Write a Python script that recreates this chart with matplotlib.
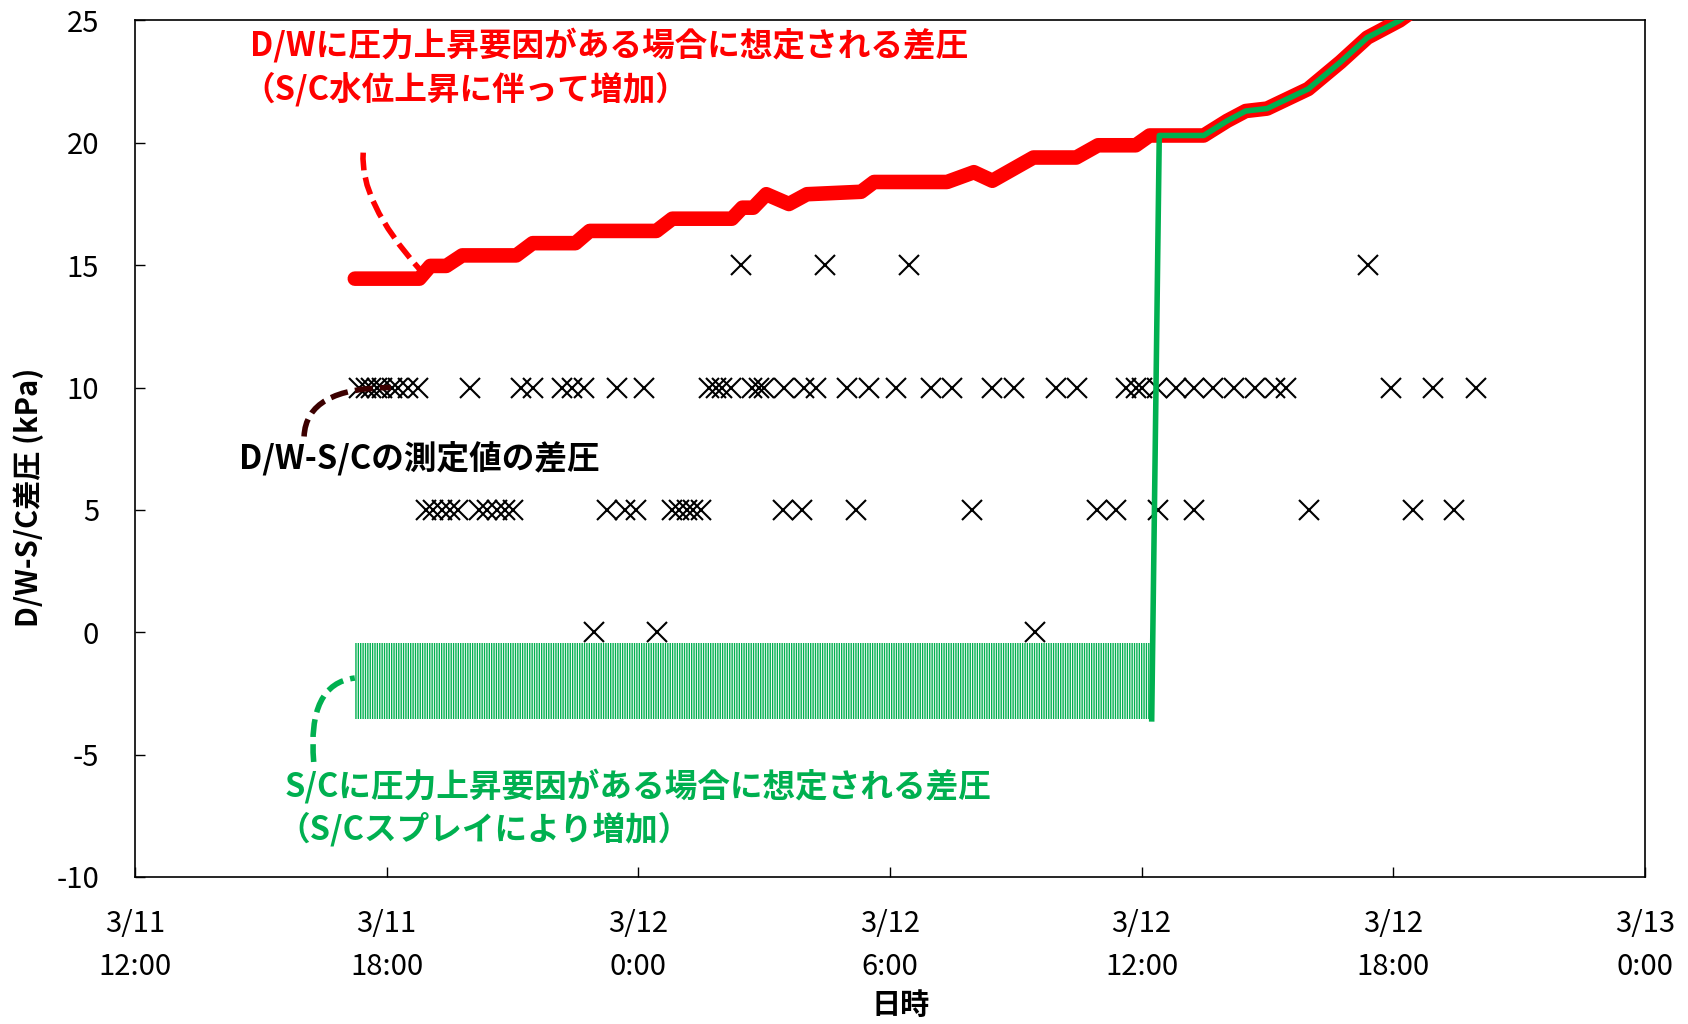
import matplotlib
matplotlib.use("Agg")
import matplotlib.pyplot as plt
from matplotlib.path import Path
from matplotlib.patches import PathPatch

plt.rcParams['font.family'] = ['Noto Sans CJK JP', 'DejaVu Sans']
plt.rcParams['hatch.linewidth'] = 1.0
plt.rcParams['axes.unicode_minus'] = False

# hours after 3/11 12:00
tick_hours = [0, 6, 12, 18, 24, 30, 36]
tick_labels = ["3/11\n12:00", "3/11\n18:00", "3/12\n0:00", "3/12\n6:00",
               "3/12\n12:00", "3/12\n18:00", "3/13\n0:00"]

# D/W side pressure rise assumption (red)
red_h = [5.24, 6.78, 7.04, 7.42, 7.80, 9.09, 9.48, 10.50, 10.84, 12.43, 12.81,
         14.23, 14.48, 14.74, 15.05, 15.59, 16.02, 17.31, 17.62, 19.36, 20.0,
         20.44, 21.42, 22.44, 22.96, 23.86, 24.19, 25.48, 26.04, 26.48, 26.99,
         27.97, 28.74, 29.38, 30.15, 30.8]
red_v = [14.45, 14.45, 14.97, 14.97, 15.4, 15.4, 15.9, 15.9, 16.4, 16.4, 16.9,
         16.9, 17.35, 17.35, 17.9, 17.5, 17.9, 18.0, 18.4, 18.4, 18.8,
         18.45, 19.4, 19.4, 19.9, 19.9, 20.3, 20.3, 20.9, 21.3, 21.4,
         22.2, 23.3, 24.3, 25.0, 25.8]

# S/C side assumption (green): band before spray step, then line
band_h = [5.24, 24.24]
band_low = -3.54
band_high = -0.42
green_h = [24.24, 24.42] + red_h[27:]
green_v = [-3.54, 20.3] + red_v[27:]

# measured D/W - S/C differences (x marks)
meas_15 = [14.45, 16.45, 18.45, 29.4]
meas_10 = [5.35, 5.5, 5.62, 5.76, 5.9, 6.12, 6.26, 6.5, 6.74, 7.98, 9.21, 9.48,
           10.17, 10.43, 10.71, 11.48, 12.14, 13.69, 13.86, 14.0, 14.21, 14.71,
           14.88, 15.0, 15.48, 15.95, 16.24, 16.98, 17.5, 18.14, 18.98, 19.48,
           20.43, 20.95, 21.95, 22.45, 23.62, 23.86, 24.0, 24.36, 24.81, 25.24,
           25.71, 26.19, 26.71, 27.19, 27.45, 29.95, 30.95, 31.98]
meas_5 = [6.93, 7.1, 7.31, 7.5, 7.69, 8.21, 8.4, 8.62, 8.81, 9.0, 11.25, 11.67,
          11.95, 12.8, 12.98, 13.15, 13.3, 13.5, 15.45, 15.9, 17.2, 19.95,
          22.93, 23.4, 24.38, 25.24, 27.98, 30.48, 31.45]
meas_0 = [10.95, 12.45, 21.45]

RED = "#FF0000"
GREEN = "#00B050"
DARK = "#3C0000"

fig = plt.figure(figsize=(16.88, 10.24), dpi=100)
ax = fig.add_axes([0.080, 0.1436, 0.8945, 0.8364])

for v, hs in [(15, meas_15), (10, meas_10), (5, meas_5), (0, meas_0)]:
    ax.plot(hs, [v] * len(hs), linestyle="none", marker="x", markersize=14.5,
            mew=1.5, color="black", zorder=2)

ax.fill_between(band_h, band_low, band_high, facecolor="white",
                edgecolor=GREEN, hatch="|||||||", linewidth=0, zorder=3)

ax.plot(red_h, red_v, color=RED, lw=10.5, solid_capstyle="round",
        solid_joinstyle="round", zorder=4)
ax.plot(green_h, green_v, color=GREEN, lw=4, solid_joinstyle="round", zorder=5)

# dashed leader curves
def leader(p0, c, p1, color):
    path = Path([p0, c, p1], [Path.MOVETO, Path.CURVE3, Path.CURVE3])
    ax.add_patch(PathPatch(path, facecolor="none", edgecolor=color, lw=4,
                           linestyle=(0, (3.2, 1.3)), zorder=6))

leader((5.44, 19.6), (5.35, 17.6), (6.78, 14.84), RED)
leader((4.03, 8.0), (4.08, 10.0), (6.1, 10.0), DARK)
leader((4.26, -5.3), (4.1, -2.1), (5.24, -1.87), GREEN)

txt = dict(fontsize=23.5, fontweight="bold", ha="left", va="center")
ax.text(2.75, 24.0, "D/Wに圧力上昇要因がある場合に想定される差圧", color=RED, **txt)
ax.text(2.55, 22.2, "（S/C水位上昇に伴って増加）", color=RED, **txt)
ax.text(2.47, 7.06, "D/W-S/Cの測定値の差圧", color="black", **txt)
ax.text(3.57, -6.27, "S/Cに圧力上昇要因がある場合に想定される差圧", color=GREEN, **txt)
ax.text(3.4, -8.03, "（S/Cスプレイにより増加）", color=GREEN, **txt)

ax.set_xlim(0, 36)
ax.set_ylim(-10, 25)
ax.set_xticks(tick_hours)
ax.set_xticklabels(tick_labels, fontsize=21, linespacing=1.55)
ax.set_yticks(range(-10, 26, 5))
ax.tick_params(axis="both", direction="in", length=7, width=1, labelsize=21)
ax.tick_params(axis="x", pad=23)
ax.tick_params(axis="y", pad=26)
for s in ax.spines.values():
    s.set_linewidth(1.2)

ax.set_ylabel("D/W-S/C差圧 (kPa)", fontsize=21, fontweight="bold")
ax.yaxis.set_label_coords(-0.060, 0.443)
ax.set_xlabel("日時", fontsize=21, fontweight="bold")
ax.xaxis.set_label_coords(0.507, -0.132)

fig.savefig("out.png", dpi=100)
